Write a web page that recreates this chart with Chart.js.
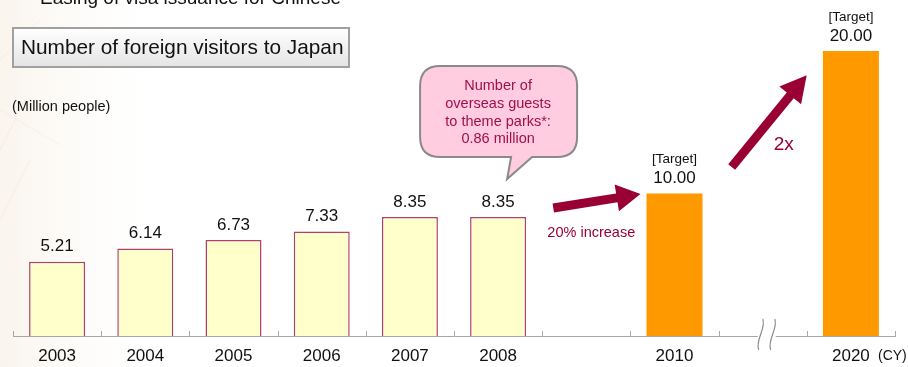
<!DOCTYPE html>
<html><head><meta charset="utf-8">
<script src="https://cdn.jsdelivr.net/npm/chart.js@4/dist/chart.umd.min.js"></script>
<style>html,body{margin:0;padding:0;background:#fff;}#wrap{width:908px;height:367px;position:relative;}</style>
</head><body><div id="wrap"><canvas id="c" width="908" height="367"></canvas></div>
<script>
const categories = ['2003','2004','2005','2006','2007','2008','','2010','','2020'];
const actualValues = [5.21, 6.14, 6.73, 7.33, 8.35, 8.35, null, null, null, null];
const targetValues = [null, null, null, null, null, null, null, 10.00, null, 20.00];
const valueLabels = ['5.21','6.14','6.73','7.33','8.35','8.35','','10.00','','20.00'];
const FONT = '"Liberation Sans", Arial, sans-serif';
const MAROON = '#990033';

function arrow(ctx, x1, y1, x2, y2, shaftW, headL, headW, color) {
  const a = Math.atan2(y2 - y1, x2 - x1);
  const len = Math.hypot(x2 - x1, y2 - y1);
  ctx.save();
  ctx.translate(x1, y1); ctx.rotate(a);
  ctx.fillStyle = color;
  ctx.beginPath();
  ctx.moveTo(0, -shaftW/2);
  ctx.lineTo(len - headL, -shaftW/2);
  ctx.lineTo(len - headL, -headW/2);
  ctx.lineTo(len, 0);
  ctx.lineTo(len - headL, headW/2);
  ctx.lineTo(len - headL, shaftW/2);
  ctx.lineTo(0, shaftW/2);
  ctx.closePath(); ctx.fill();
  ctx.restore();
}

const bgPlugin = {
  id: 'bg',
  beforeDraw(chart) {
    const ctx = chart.ctx;
    ctx.save();
    ctx.fillStyle = '#fff'; ctx.fillRect(0, 0, chart.width, chart.height);
    const g = ctx.createLinearGradient(0, 0, 180, 0);
    g.addColorStop(0, 'rgba(244,234,218,0.5)');
    g.addColorStop(1, 'rgba(255,255,255,0)');
    ctx.fillStyle = g; ctx.fillRect(0, 0, 180, chart.height);
    ctx.strokeStyle = 'rgba(230,215,195,0.25)'; ctx.lineWidth = 1;
    ctx.beginPath();
    ctx.moveTo(0, 110); ctx.lineTo(60, 145);
    ctx.moveTo(0, 150); ctx.lineTo(25, 100);
    ctx.moveTo(0, 220); ctx.lineTo(30, 160);
    ctx.moveTo(0, 60); ctx.lineTo(40, 20);
    ctx.stroke();
    ctx.restore();
  }
};

const overlayPlugin = {
  id: 'overlay',
  afterDatasetsDraw(chart) {
    const ctx = chart.ctx;
    const xs = chart.scales.x, ys = chart.scales.y;
    const px = i => xs.getPixelForValue(i);
    const py = v => ys.getPixelForValue(v);
    const half = (px(1) - px(0)) / 2;
    const bottom = chart.chartArea.bottom;
    ctx.save();
    // ticks pointing up at category boundaries
    ctx.strokeStyle = '#a6a6a6'; ctx.lineWidth = 1;
    ctx.beginPath();
    for (let i = 0; i <= categories.length; i++) {
      const x = Math.round(px(0) - half + i * 2 * half) + 0.5;
      ctx.moveTo(x, bottom - 5); ctx.lineTo(x, bottom);
    }
    ctx.stroke();
    // break mark
    const bx = px(8) + 4;
    ctx.fillStyle = '#fff';
    ctx.fillRect(bx - 9, bottom - 3, 18, 6);
    ctx.strokeStyle = '#8c8c8c'; ctx.lineWidth = 1.2;
    [-6, 6].forEach(d => {
      ctx.beginPath();
      ctx.moveTo(bx + d + 2, bottom - 17);
      ctx.bezierCurveTo(bx + d + 6, bottom - 8, bx + d - 6, bottom + 4, bx + d - 2, bottom + 14);
      ctx.stroke();
    });
    // value labels
    ctx.textAlign = 'center'; ctx.textBaseline = 'middle';
    chart.data.datasets.forEach((ds, di) => {
      const meta = chart.getDatasetMeta(di);
      meta.data.forEach((bar, i) => {
        if (ds.data[i] == null) return;
        ctx.fillStyle = '#111';
        ctx.font = '17px ' + FONT;
        ctx.fillText(valueLabels[i], bar.x, bar.y - 15);
        if (di === 1) {
          ctx.font = '13.5px ' + FONT;
          ctx.fillText('[Target]', bar.x, bar.y - 34);
        }
      });
    });
    // callout bubble
    const cx = px(5), cTop = 66, cBot = 157, cL = cx - 78, cR = cx + 79, r = 20;
    const tipX = cx + 9, tipY = 179;
    ctx.beginPath();
    ctx.moveTo(cL + r, cTop);
    ctx.lineTo(cR - r, cTop); ctx.quadraticCurveTo(cR, cTop, cR, cTop + r);
    ctx.lineTo(cR, cBot - r); ctx.quadraticCurveTo(cR, cBot, cR - r, cBot);
    ctx.lineTo(cx + 34, cBot);
    ctx.lineTo(tipX, tipY);
    ctx.lineTo(cx + 13, cBot);
    ctx.lineTo(cL + r, cBot); ctx.quadraticCurveTo(cL, cBot, cL, cBot - r);
    ctx.lineTo(cL, cTop + r); ctx.quadraticCurveTo(cL, cTop, cL + r, cTop);
    ctx.closePath();
    ctx.fillStyle = '#ffcce0'; ctx.fill();
    ctx.strokeStyle = '#8a8a8a'; ctx.lineWidth = 2; ctx.stroke();
    ctx.fillStyle = '#a0104a'; ctx.font = '14.5px ' + FONT;
    ['Number of', 'overseas guests', 'to theme parks*:', '0.86 million'].forEach((t, k) => {
      ctx.fillText(t, cx, 86 + k * 17.8);
    });
    // arrows
    arrow(ctx, px(6) - 33, py(8.98), px(7) - 34, py(9.96), 9, 24, 27, MAROON);
    arrow(ctx, px(8) - 31, py(11.86), px(8) + 44, py(18.3), 9, 26, 28, MAROON);
    ctx.fillStyle = MAROON;
    ctx.font = '14.5px ' + FONT;
    ctx.fillText('20% increase', px(6) + 5, 233);
    ctx.font = '19px ' + FONT;
    ctx.fillText('2x', px(8) + 21, 145);
    // (CY)
    ctx.fillStyle = '#111'; ctx.font = '14px ' + FONT; ctx.textAlign = 'left';
    ctx.fillText('(CY)', 878, 356);
    // top cut-off text
    ctx.font = '19px ' + FONT; ctx.textBaseline = 'alphabetic';
    ctx.fillText('Easing of visa issuance for Chinese', 40, 4);
    // title box
    const tg = ctx.createLinearGradient(0, 28, 0, 67);
    tg.addColorStop(0, '#ffffff'); tg.addColorStop(1, '#e4e4e4');
    ctx.fillStyle = tg; ctx.fillRect(13, 28, 336, 39);
    ctx.strokeStyle = '#a0a0a0'; ctx.lineWidth = 2; ctx.strokeRect(13, 28, 336, 39);
    ctx.fillStyle = '#111'; ctx.font = '20.8px ' + FONT; ctx.textBaseline = 'middle';
    ctx.fillText('Number of foreign visitors to Japan', 21, 48);
    ctx.font = '14.5px ' + FONT;
    ctx.fillText('(Million people)', 12, 107);
    ctx.restore();
  }
};

new Chart(document.getElementById('c'), {
  type: 'bar',
  data: {
    labels: categories,
    datasets: [
      { label: 'Actual', data: actualValues, backgroundColor: '#ffffcc', borderColor: '#b04070', borderWidth: 1.5, borderSkipped: 'bottom' },
      { label: 'Target', data: targetValues, backgroundColor: '#ff9900', borderWidth: 0 }
    ]
  },
  options: {
    responsive: false, animation: false,
    layout: { padding: { left: 13, right: 13, top: 22.5, bottom: 0 } },
    plugins: { legend: { display: false }, tooltip: { enabled: false } },
    datasets: { bar: { grouped: false, categoryPercentage: 1, barPercentage: 0.635 } },
    scales: {
      x: {
        grid: { display: false, drawTicks: false },
        border: { display: true, color: '#a6a6a6', width: 1 },
        ticks: { color: '#111', font: { family: FONT, size: 17 }, padding: 10, maxRotation: 0, autoSkip: false },
        afterFit: s => { s.height = 31; }
      },
      y: { display: false, min: 0, max: 22 }
    }
  },
  plugins: [bgPlugin, overlayPlugin]
});
</script></body></html>
